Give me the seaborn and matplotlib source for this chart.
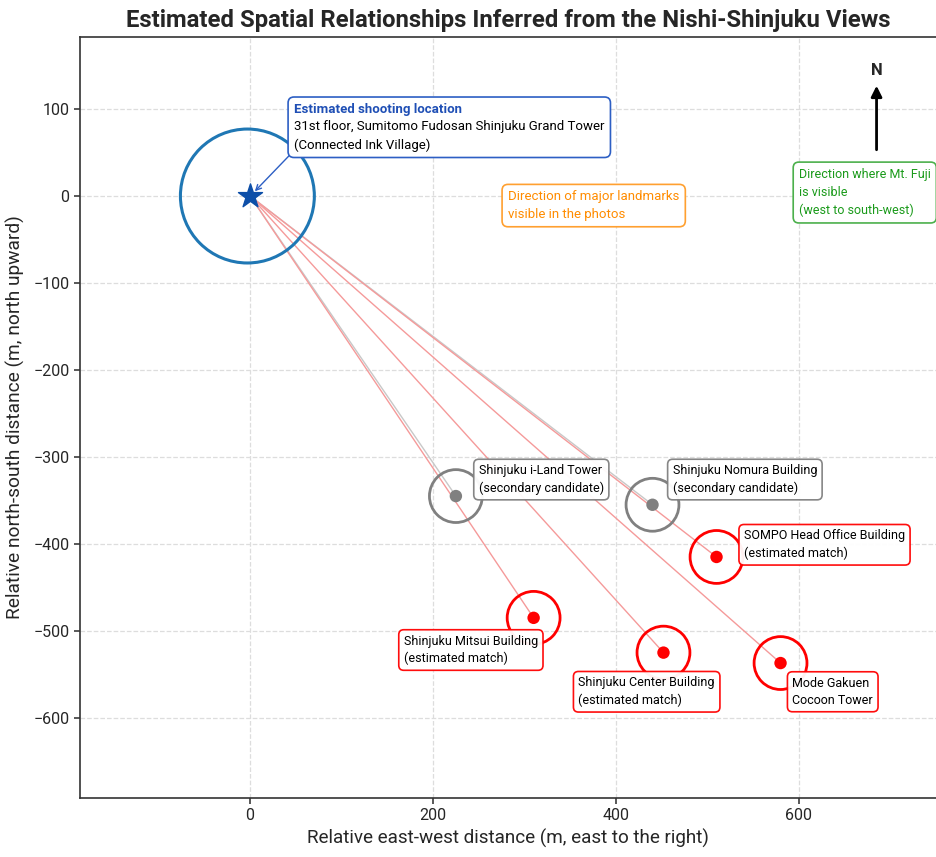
import numpy as np
import pandas as pd
import seaborn as sns
import matplotlib.pyplot as plt

# --- data ---
camera_x, camera_y = 0, 0
names = ["Shinjuku i-Land Tower", "Shinjuku Nomura Building", "SOMPO Head Office Building",
         "Shinjuku Mitsui Building", "Shinjuku Center Building", "Mode Gakuen\nCocoon Tower"]
east = [225, 440, 510, 310, 452, 580]
north = [-345, -355, -415, -485, -525, -537]
status = ["secondary", "secondary", "match", "match", "match", "match"]
suffix = {"secondary": "\n(secondary candidate)", "match": "\n(estimated match)"}

df = pd.DataFrame({"name": names, "east": east, "north": north, "status": status})

sns.set_theme(style="ticks")
FONT = ["Roboto", "DejaVu Sans"]
plt.rcParams["font.family"] = FONT
plt.rcParams["axes.unicode_minus"] = True

fig = plt.figure(figsize=(9.36, 8.57), dpi=100)
ax = fig.add_axes([0.0855, 0.069, 0.9145, 0.888])

colors = {"secondary": "gray", "match": "red"}
line_colors = {"secondary": "#c8c8c8", "match": "#f59a9a"}

# sight lines from the shooting position
for _, r in df.iterrows():
    ax.plot([camera_x, r.east], [camera_y, r.north], color=line_colors[r.status], lw=1, zorder=1)

# hollow rings + centre dots
for st in ["secondary", "match"]:
    sub = df[df.status == st]
    sns.scatterplot(data=sub, x="east", y="north", s=1450, facecolor="none",
                    edgecolor=colors[st], linewidth=2, ax=ax, zorder=3, legend=False)
    sns.scatterplot(data=sub, x="east", y="north", s=80, color=colors[st],
                    edgecolor="none", ax=ax, zorder=4, legend=False)

# camera position
ax.scatter([camera_x - 3], [camera_y], s=9300, facecolor="none", edgecolor="#1f77b4", lw=2.2, zorder=3)
ax.scatter([camera_x], [camera_y], s=330, marker="*", color="#0d4fa8", zorder=5)

# label offsets (data units) for each building box
offsets = {
    "Shinjuku i-Land Tower": (25, 19),
    "Shinjuku Nomura Building": (22, 29),
    "SOMPO Head Office Building": (30, 14),
    "Shinjuku Mitsui Building": (-142, -37),
    "Shinjuku Center Building": (-93, -45),
    "Mode Gakuen\nCocoon Tower": (13, -33),
}
for _, r in df.iterrows():
    dx, dy = offsets[r["name"]]
    txt = r["name"] if "\n" in r["name"] else r["name"] + suffix[r.status]
    ax.text(r.east + dx, r.north + dy, txt, ha="left", va="center", fontsize=9, color="black",
            linespacing=1.4, zorder=6,
            bbox=dict(boxstyle="round,pad=0.4", fc="white", ec=colors[r.status], lw=1.2, alpha=0.95))

# shooting location callout
blue_box = "#2d5fc4"
ax.annotate("\n31st floor, Sumitomo Fudosan Shinjuku Grand Tower\n(Connected Ink Village)",
            xy=(camera_x + 2, camera_y + 2), xytext=(48, 107), ha="left", va="top",
            fontsize=9.5, color="black", linespacing=1.45, zorder=6,
            bbox=dict(boxstyle="round,pad=0.45", fc="white", ec=blue_box, lw=1.2),
            arrowprops=dict(arrowstyle="->", color=blue_box, lw=1, relpos=(0, 0.02),
                            shrinkA=0, shrinkB=3))
ax.text(48, 107, "Estimated shooting location\n\n", ha="left", va="top", fontsize=9.5,
        color="#1f4fb5", fontweight="bold", linespacing=1.45, zorder=7)

ax.text(282, -11, "Direction of major landmarks\nvisible in the photos", ha="left", va="center",
        fontsize=9.5, color="#ff8c00", linespacing=1.45, zorder=6,
        bbox=dict(boxstyle="round,pad=0.45", fc="white", ec="#ffa030", lw=1.2))
ax.text(600, 4, "Direction where Mt. Fuji\nis visible\n(west to south-west)", ha="left", va="center",
        fontsize=9, color="#1a9a1a", linespacing=1.5, zorder=6,
        bbox=dict(boxstyle="round,pad=0.45", fc="white", ec="#4cb04c", lw=1.2))

# north arrow
ax.annotate("", xy=(685, 130), xytext=(685, 50),
            arrowprops=dict(arrowstyle="-|>", color="black", lw=2, mutation_scale=16))
ax.text(685, 144, "N", ha="center", va="center", fontsize=12, fontweight="bold")

ax.set_xlim(-186, 750)
ax.set_ylim(-692, 183)
ax.set_xticks([0, 200, 400, 600])
ax.set_yticks([100, 0, -100, -200, -300, -400, -500, -600])
ax.tick_params(labelsize=11.5, length=4, color="#444444")
ax.grid(True, ls="--", color="#dddddd", lw=0.9)
ax.set_axisbelow(True)
for s in ["left", "bottom", "top"]:
    ax.spines[s].set_color("#333333")
    ax.spines[s].set_linewidth(1.2)
ax.spines["right"].set_visible(False)

ax.set_xlabel("Relative east-west distance (m, east to the right)", fontsize=13.6, labelpad=4)
ax.set_ylabel("Relative north-south distance (m, north upward)", fontsize=13.8, labelpad=6)
ax.set_title("Estimated Spatial Relationships Inferred from the Nishi-Shinjuku Views",
             fontsize=17.2, fontweight="bold", pad=7)

fig.savefig("out.png", dpi=100)
